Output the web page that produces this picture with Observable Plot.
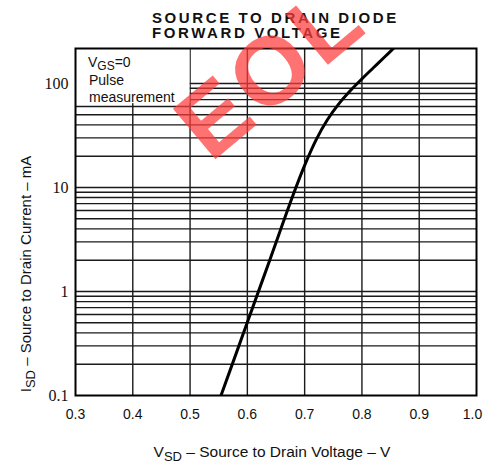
<!DOCTYPE html>
<html><head><meta charset="utf-8">
<script src="https://cdn.jsdelivr.net/npm/d3@7"></script>
<script src="https://cdn.jsdelivr.net/npm/@observablehq/plot@0.6"></script>
<style>
body{margin:0;background:#fff;width:484px;height:464px;overflow:hidden;position:relative;}
#title{height:40px;width:484px;position:relative;font-family:"Liberation Sans",Arial,sans-serif;font-weight:bold;font-size:15px;letter-spacing:2.6px;line-height:15px;color:#111;}
#title div{position:absolute;left:152px;white-space:nowrap}
#wm{position:absolute;left:0;top:0;width:484px;height:464px;pointer-events:none;overflow:hidden}
#wm div{position:absolute;left:154px;top:96px;font-family:"Liberation Sans",Arial,sans-serif;font-weight:bold;font-size:96px;line-height:1.15;color:rgba(255,60,60,0.72);transform-origin:0 0;transform:rotate(-40deg);letter-spacing:4px;white-space:nowrap}
</style></head><body>
<div id="title"><div style="top:10px">SOURCE TO DRAIN DIODE</div><div style="top:25px">FORWARD VOLTAGE</div></div>
<div id="chart"></div>
<div id="wm"><div>EOL</div></div>
<script>
// curve: V_SD (V) vs I_SD (mA)
const vsd = [0.554, 0.600, 0.640, 0.680, 0.700, 0.720, 0.740, 0.760, 0.780, 0.800, 0.820, 0.840, 0.855];
const isd = [0.10, 0.505, 2.07, 8.5, 16.3, 28.7, 45, 64, 85.5, 110.7, 141.6, 180.7, 217];
const xTicks = [0.3, 0.4, 0.5, 0.6, 0.7, 0.8, 0.9];
const xLastTick = [1.0];
const yTicks = [0.1, 1, 10, 100];
const xGrid = [0.4, 0.5, 0.6, 0.7, 0.8, 0.9];
const yGrid = [0.2,0.3,0.4,0.5,0.6,0.7,0.8,0.9,1,2,3,4,5,6,7,8,9,10,20,30,40,50,60,70,80,90,100];
const yDomain = [0.1, 217];
const noteBox = [{x1: 0.3, x2: 0.5, y1: 64, y2: 217}];
const noteLines = ["Pulse", "measurement"];

const curve = vsd.map((v, i) => ({v, i: isd[i]}));

const plot = Plot.plot({
  width: 484, height: 424,
  marginTop: 8, marginBottom: 69, marginLeft: 75, marginRight: 8,
  style: {fontFamily: "Liberation Sans, Arial, sans-serif", fontSize: "14px", color: "#111", background: "#fff", overflow: "visible"},
  x: {domain: [0.3, 1.0]},
  y: {type: "log", domain: yDomain},
  marks: [
    Plot.ruleX(xGrid, {stroke: "#1a1a1a", strokeWidth: 1.4}),
    Plot.ruleY(yGrid, {stroke: "#1a1a1a", strokeWidth: 1.4}),
    Plot.rect(noteBox, {x1: "x1", x2: "x2", y1: "y1", y2: "y2", fill: "white"}),
    Plot.line(curve, {x: "v", y: "i", stroke: "#000", strokeWidth: 3, curve: "catmull-rom", clip: true}),
    Plot.frame({stroke: "#000", strokeWidth: 2}),
    Plot.axisX(xTicks, {tickSize: 0, tickPadding: 14, tickFormat: d3.format(".1f"), label: null, fontSize: 14}),
    Plot.axisX(xLastTick, {tickSize: 0, tickPadding: 14, tickFormat: d3.format(".1f"), label: null, fontSize: 14, dx: -4}),
    Plot.axisY(yTicks, {tickSize: 0, tickPadding: 7, tickFormat: d => d < 1 ? "0.1" : String(d), label: null, fontFamily: "Liberation Serif, Times New Roman, serif", fontSize: 16})
  ]
});
document.getElementById("chart").appendChild(plot);

const svg = d3.select(plot);
const xs = plot.scale("x");
const font = "Liberation Sans, Arial, sans-serif";

// y axis label
const yl = svg.append("text")
  .attr("transform", `translate(31, 234) rotate(-90)`)
  .attr("text-anchor", "middle").attr("font-family", font).attr("font-size", 15).attr("fill", "#111");
yl.append("tspan").text("I");
yl.append("tspan").attr("dy", 4).attr("font-size", 13).text("SD");
yl.append("tspan").attr("dy", -4).text(" \u2013 Source to Drain Current \u2013 mA");

// x axis label
const xl = svg.append("text")
  .attr("x", 272).attr("y", 417)
  .attr("text-anchor", "middle").attr("font-family", font).attr("font-size", 15.5).attr("fill", "#111");
xl.append("tspan").text("V");
xl.append("tspan").attr("dy", 4).attr("font-size", 13).text("SD");
xl.append("tspan").attr("dy", -4).text(" \u2013 Source to Drain Voltage \u2013 V");

// note text
const nx = xs.apply(0.3) + 13;
const n1 = svg.append("text").attr("x", nx).attr("y", 27).attr("text-anchor", "start")
  .attr("font-family", font).attr("font-size", 14).attr("fill", "#111");
n1.append("tspan").text("V");
n1.append("tspan").attr("dy", 3).attr("font-size", 12).text("GS");
n1.append("tspan").attr("dy", -3).text("=0");
noteLines.forEach((t, k) => {
  svg.append("text").attr("x", nx + 1).attr("y", 45 + k * 17).attr("text-anchor", "start")
    .attr("font-family", font).attr("font-size", 14).attr("fill", "#111").text(t);
});
</script>
</body></html>
